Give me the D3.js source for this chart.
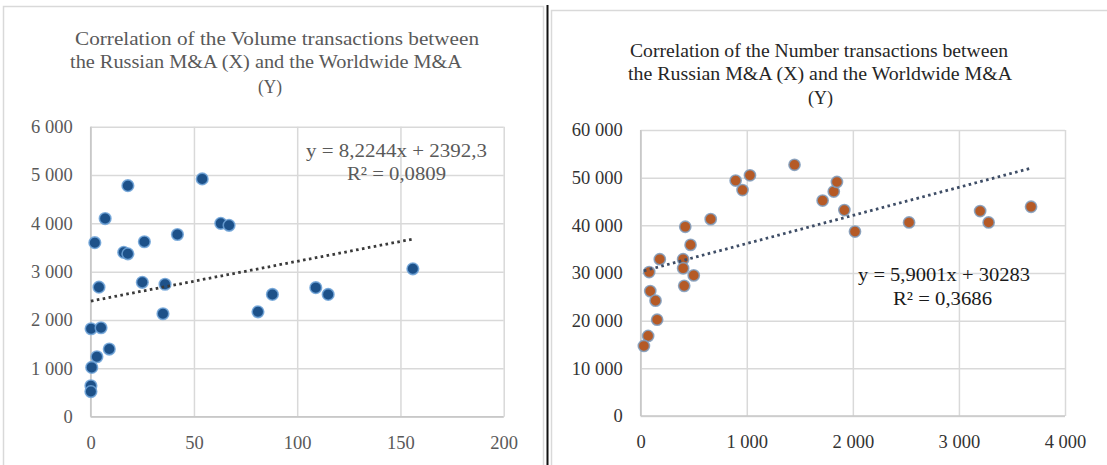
<!DOCTYPE html>
<html><head><meta charset="utf-8">
<script src="https://cdn.jsdelivr.net/npm/d3@7"></script>
<style>html,body{margin:0;padding:0;background:#fff;}svg{display:block;}</style>
</head><body>
<script>
// ---------- DATA ----------
const volX = [18, 54, 7, 63, 67, 2, 16, 18, 26, 42, 4, 25, 36, 35, 0.2, 5, 9, 3, 0.5, 0.1, 0.1, 81, 88, 109, 115, 156];
const volY = [4780, 4920, 4100, 4000, 3960, 3600, 3400, 3370, 3620, 3770, 2680, 2780, 2740, 2130, 1820, 1840, 1400, 1240, 1020, 640, 520, 2170, 2530, 2670, 2530, 3060];
const numX = [80, 180, 400, 400, 500, 470, 420, 660, 895, 960, 1030, 1450, 1715, 1820, 1850, 1920, 2020, 410, 90, 140, 155, 70, 30, 2530, 3200, 3280, 3680];
const numY = [30200, 32900, 32900, 31000, 29500, 35900, 39700, 41300, 49400, 47400, 50500, 52700, 45200, 47100, 49100, 43200, 38700, 27300, 26200, 24200, 20200, 16800, 14700, 40600, 43000, 40600, 43900];
const volXTicks = [0, 50, 100, 150, 200];
const volYTicks = [0, 1000, 2000, 3000, 4000, 5000, 6000];
const numXTicks = [0, 1000, 2000, 3000, 4000];
const numYTicks = [0, 10000, 20000, 30000, 40000, 50000, 60000];
const volTitle = ["Correlation of the Volume transactions between", "the Russian M&A (X) and the Worldwide M&A", "(Y)"];
const numTitle = ["Correlation of the Number transactions between", "the Russian M&A (X) and the Worldwide M&A", "(Y)"];
const volTrend = [8.2244, 2392.3];   // slope, intercept
const numTrend = [5.9001, 30283];
const volEq = ["y = 8,2244x + 2392,3", "R² = 0,0809"];
const numEq = ["y = 5,9001x + 30283", "R² = 0,3686"];

// ---------- RENDER ----------
const W = 1107, H = 465;
const svg = d3.select("body").append("svg").attr("width", W).attr("height", H);
svg.append("rect").attr("width", W).attr("height", H).attr("fill", "#fff");

// panel frames
svg.append("rect").attr("x", 3.5).attr("y", 6.5).attr("width", 540).attr("height", 470)
  .attr("fill", "none").attr("stroke", "#d9d9d9").attr("stroke-width", 1.5);
svg.append("rect").attr("x", 551.5).attr("y", 10.5).attr("width", 560).attr("height", 470)
  .attr("fill", "none").attr("stroke", "#d9d9d9").attr("stroke-width", 1.5);
svg.append("line").attr("x1", 547.5).attr("x2", 547.5).attr("y1", 5).attr("y2", H)
  .attr("stroke", "#111").attr("stroke-width", 2);

const loc = d3.formatLocale({decimal: ",", thousands: " ", grouping: [3], currency: ["", ""]});
const fmt = loc.format(",d");
const FONT = "'Liberation Serif', 'Times New Roman', serif";

function chart(cfg) {
  const g = svg.append("g");
  const x = d3.scaleLinear().domain(cfg.xDom).range(cfg.xRange);
  const y = d3.scaleLinear().domain(cfg.yDom).range(cfg.yRange);
  const top = cfg.yRange[1], bottom = cfg.yRange[0], left = cfg.xRange[0], right = cfg.xRange[1];

  // grid
  const gy = g.append("g").attr("transform", `translate(${left},0)`)
    .call(d3.axisLeft(y).tickValues(cfg.yTicks).tickSize(-(right - left)).tickFormat(""));
  const gx = g.append("g").attr("transform", `translate(0,${bottom})`)
    .call(d3.axisBottom(x).tickValues(cfg.xTicks).tickSize(-(bottom - top)).tickFormat(""));
  [gy, gx].forEach(a => {
    a.select(".domain").remove();
    a.selectAll("line").attr("stroke", "#d9d9d9").attr("stroke-width", 1.5);
  });
  // axis lines
  g.append("line").attr("x1", left).attr("x2", right).attr("y1", y(0)).attr("y2", y(0))
    .attr("stroke", "#c8c8c8").attr("stroke-width", 1.5);
  g.append("line").attr("x1", x(0)).attr("x2", x(0)).attr("y1", top).attr("y2", bottom)
    .attr("stroke", "#c8c8c8").attr("stroke-width", 1.5);

  // tick labels
  const ay = g.append("g").attr("transform", `translate(${left},0)`)
    .call(d3.axisLeft(y).tickValues(cfg.yTicks).tickSize(0).tickPadding(cfg.yPad).tickFormat(fmt));
  const ax = g.append("g").attr("transform", `translate(0,${bottom})`)
    .call(d3.axisBottom(x).tickValues(cfg.xTicks).tickSize(0).tickPadding(19).tickFormat(fmt));
  [ay, ax].forEach(a => {
    a.select(".domain").remove();
    a.attr("font-family", FONT).attr("font-size", 18.5);
    a.selectAll("text").attr("fill", cfg.textColor);
  });

  // points
  const pts = cfg.xs.map((v, i) => [v, cfg.ys[i]]);
  g.append("g").selectAll("circle").data(pts).join("circle")
    .attr("cx", d => x(d[0])).attr("cy", d => y(d[1])).attr("r", cfg.r)
    .attr("fill", cfg.fill).attr("stroke", cfg.stroke).attr("stroke-width", 1.6).attr("stroke-opacity", 0.85);

  // trend line
  const x0 = d3.min(cfg.xs), x1 = d3.max(cfg.xs);
  const f = v => cfg.trend[0] * v + cfg.trend[1];
  g.append("line").attr("x1", x(x0)).attr("y1", y(f(x0))).attr("x2", x(x1)).attr("y2", y(f(x1)))
    .attr("stroke", cfg.trendColor).attr("stroke-width", 2.8).attr("stroke-dasharray", "2.6,3.4");

  // title
  cfg.title.forEach((t, i) => {
    const tx = g.append("text").attr("x", cfg.titleX[i]).attr("y", cfg.titleY[i])
      .attr("font-family", FONT).attr("font-size", 19).attr("fill", cfg.titleColor).text(t);
    if (cfg.titleW[i]) tx.attr("textLength", cfg.titleW[i]).attr("lengthAdjust", "spacingAndGlyphs");
  });
  // equation
  cfg.eq.forEach((t, i) => {
    g.append("text").attr("x", cfg.eqX[i]).attr("y", cfg.eqY[i])
      .attr("font-family", FONT).attr("font-size", 19).attr("fill", cfg.eqColor)
      .attr("textLength", cfg.eqW[i]).attr("lengthAdjust", "spacingAndGlyphs").text(t);
  });
}

chart({
  xs: volX, ys: volY, xDom: [0, 200], yDom: [0, 6000],
  xRange: [90.7, 503.7], yRange: [416.7, 126.7],
  xTicks: volXTicks, yTicks: volYTicks, yPad: 18,
  textColor: "#595959", titleColor: "#595959", eqColor: "#595959",
  fill: "#1d5189", stroke: "#6fa3d8", r: 5.8, trendColor: "#3a3a3a",
  trend: volTrend,
  title: volTitle, titleX: [75, 70, 258], titleY: [45, 68, 93], titleW: [404, 392, 24],
  eq: volEq, eqX: [306, 347], eqY: [157, 180], eqW: [181, 99]
});

chart({
  xs: numX, ys: numY, xDom: [0, 4000], yDom: [0, 60000],
  xRange: [640.7, 1065], yRange: [416, 130],
  xTicks: numXTicks, yTicks: numYTicks, yPad: 18,
  textColor: "#333333", titleColor: "#262626", eqColor: "#1a1a1a",
  fill: "#b55a26", stroke: "#7f9cbd", r: 5.6, trendColor: "#3e4d66",
  trend: numTrend,
  title: numTitle, titleX: [630, 628, 808], titleY: [57, 80, 104], titleW: [378, 384, 25],
  eq: numEq, eqX: [858, 893], eqY: [281, 305], eqW: [172, 99]
});
</script>
</body></html>
